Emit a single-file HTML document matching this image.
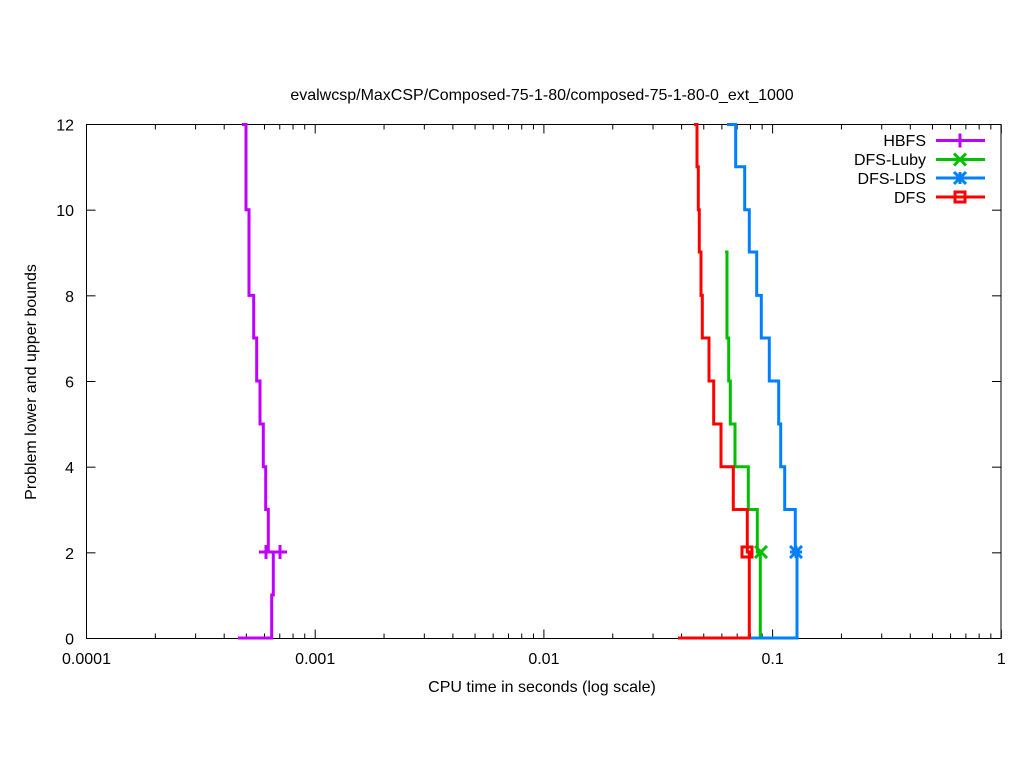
<!DOCTYPE html>
<html><head><style>body{margin:0;background:#fff}svg{display:block}text{font-family:"Liberation Sans",sans-serif;font-size:16px;fill:#000}</style></head>
<body>
<svg id="s" width="1024" height="768" xmlns="http://www.w3.org/2000/svg">
<rect width="1024" height="768" fill="#fff"/>
<text x="542" y="100" text-anchor="middle">evalwcsp/MaxCSP/Composed-75-1-80/composed-75-1-80-0_ext_1000</text>
<g id="ticks" stroke="#000" stroke-width="1"></g>
<rect x="86.5" y="124.5" width="914.5" height="514" fill="none" stroke="#000" stroke-width="1"/>
<g id="lbl"></g>
<text x="36" y="382" text-anchor="middle" transform="rotate(-90 36 382)">Problem lower and upper bounds</text>
<text x="542" y="692" text-anchor="middle">CPU time in seconds (log scale)</text>
<g fill="none" stroke-width="3">
<polyline stroke="#c000ff" points="242,124.5 246,124.5 246,209.7 249,209.7 249,295.4 253.7,295.4 253.7,338 256.7,338 256.7,381 260,381 260,424 263.3,424 263.3,466.7 265.7,466.7 265.7,509.5 268.3,509.5 268.3,552 273.3,552 273.3,595 271.7,595 271.7,638 238,638"/>
<polyline stroke="#00c000" points="725,252 727,252 727,338 728.7,338 728.7,381 730.3,381 730.3,424 735,424 735,466.7 748.3,466.7 748.3,509.5 757.3,509.5 757.3,552 760.3,552 760.3,638"/>
<polyline stroke="#0080ff" points="727,124.5 735.7,124.5 735.7,166.8 744.7,166.8 744.7,209.7 749.3,209.7 749.3,252 756.7,252 756.7,295.4 761.3,295.4 761.3,338 769.3,338 769.3,381 778.7,381 778.7,424 780.7,424 780.7,466.7 784.7,466.7 784.7,509.5 795.3,509.5 795.3,552 797,552 797,638 750,638"/>
<polyline stroke="#ff0000" points="694,124.5 697,124.5 697,166.8 698.3,166.8 698.3,209.7 699.3,209.7 699.3,252 701,252 701,295.4 702.3,295.4 702.3,338 709,338 709,381 713.7,381 713.7,424 721,424 721,466.7 733.3,466.7 733.3,509.5 747.3,509.5 747.3,552 749.3,552 749.3,638 678,638"/>
<path stroke="#c000ff" d="M259,552h14M266,545v14M273,552h14M280,545v14"/>
<path stroke="#00c000" d="M755,546l12,12M755,558l12,-12"/>
<path stroke="#0080ff" d="M790,546l12,12M790,558l12,-12M790,552h12M796,546v12"/>
<rect x="742" y="547" width="10" height="10" stroke="#ff0000"/>
<path stroke="#c000ff" d="M936,140.5h49M960,133.5v14"/>
<path stroke="#00c000" d="M936,159.5h49M954,153.5l12,12M954,165.5l12,-12"/>
<path stroke="#0080ff" d="M936,178h49M954,172l12,12M954,184l12,-12M960,172v12"/>
<path stroke="#ff0000" d="M936,197h49"/>
<rect x="955" y="192" width="10" height="10" stroke="#ff0000"/>
</g>
<text x="926" y="146" text-anchor="end">HBFS</text>
<text x="926" y="165" text-anchor="end">DFS-Luby</text>
<text x="926" y="184" text-anchor="end">DFS-LDS</text>
<text x="926" y="203" text-anchor="end">DFS</text>
</svg>
<script>
var NS="http://www.w3.org/2000/svg",t=document.getElementById("ticks"),l=document.getElementById("lbl");
function ln(x1,y1,x2,y2){var e=document.createElementNS(NS,"line");e.setAttribute("x1",x1);e.setAttribute("y1",y1);e.setAttribute("x2",x2);e.setAttribute("y2",y2);t.appendChild(e);}
function tx(x,y,s,a){var e=document.createElementNS(NS,"text");e.setAttribute("x",x);e.setAttribute("y",y);e.setAttribute("text-anchor",a);e.textContent=s;l.appendChild(e);}
var x0=86.5,dec=228.7,yb=638.5,yt=124.5;
var labs=["0.0001","0.001","0.01","0.1","1"];
for(var d=0;d<=4;d++){var x=x0+d*dec;ln(x,yb,x,yb-9);ln(x,yt,x,yt+9);tx(x,664,labs[d],"middle");
 if(d<4)for(var m=2;m<10;m++){var xm=x+Math.log10(m)*dec;ln(xm,yb,xm,yb-5);ln(xm,yt,xm,yt+5);}}
for(var k=0;k<=12;k+=2){var y=yb-k*(514/12);ln(86.5,y,95.5,y);ln(1001,y,992,y);tx(74,y+6,String(k),"end");}
</script>
</body></html>
